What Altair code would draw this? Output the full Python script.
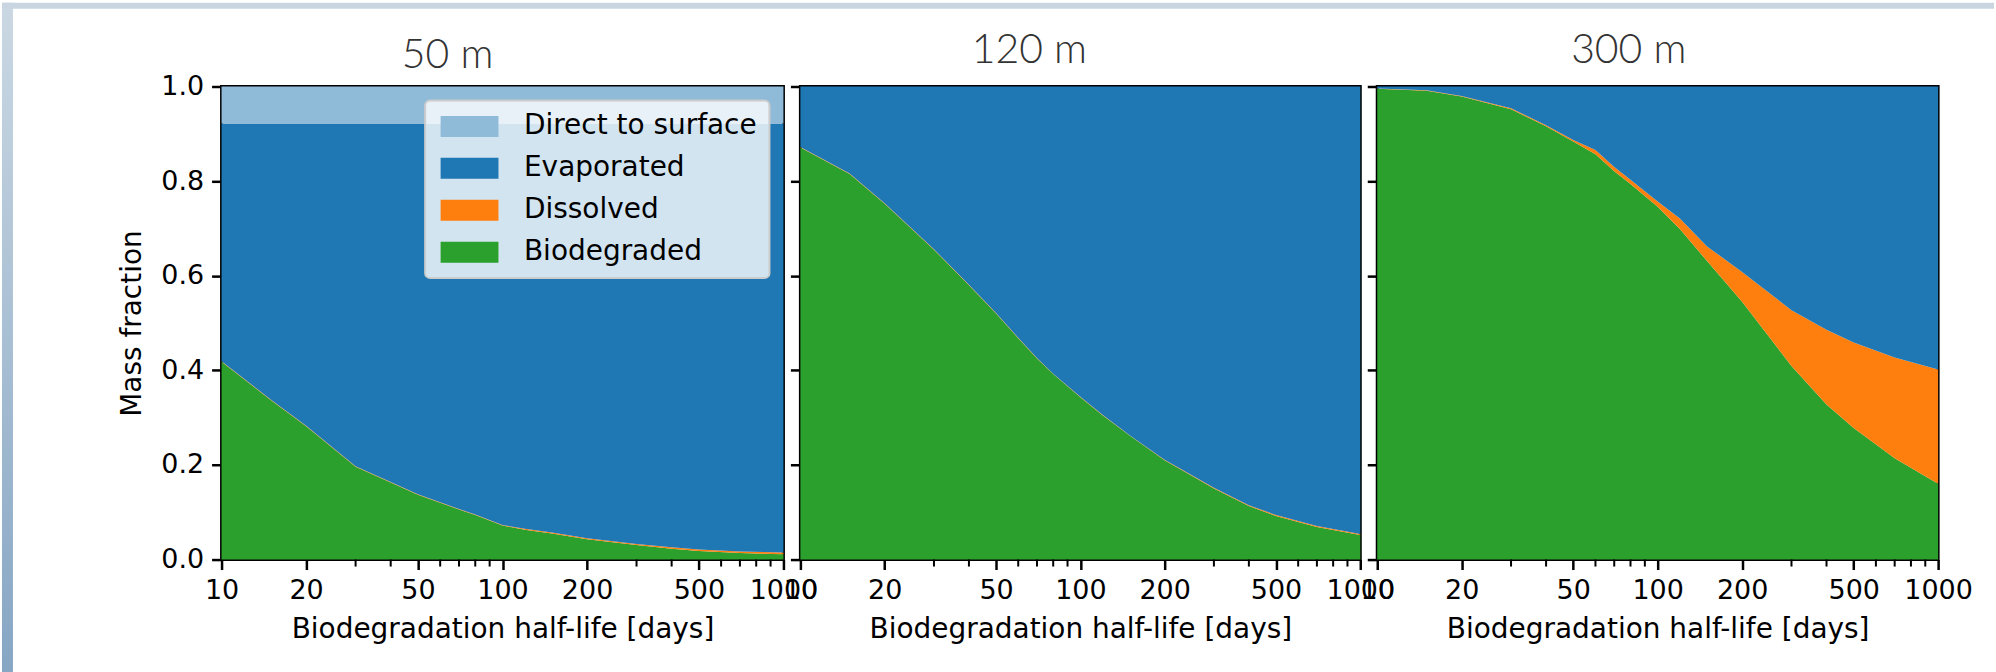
import altair as alt
import pandas as pd

# ---------------- data ----------------
days = [10, 15, 20, 30, 40, 50, 60, 70, 80, 100, 120, 150, 200, 300, 400, 500, 700, 1000]

depth_titles = ["50 m", "120 m", "300 m"]
categories = ["Direct to surface", "Evaporated", "Dissolved", "Biodegraded"]
colors = ["#8fbbd9", "#1f77b4", "#ff7f0e", "#2ca02c"]

# 50 m
bio_50 = [0.418, 0.337, 0.282, 0.196, 0.163, 0.137, 0.120, 0.106, 0.094, 0.072, 0.063, 0.055, 0.043, 0.031, 0.023, 0.018, 0.014, 0.011]
diss_50 = [0.001, 0.001, 0.001, 0.001, 0.001, 0.001, 0.001, 0.001, 0.001, 0.001, 0.002, 0.002, 0.002, 0.002, 0.003, 0.003, 0.003, 0.004]
evap_50 = [0.503, 0.584, 0.639, 0.725, 0.758, 0.784, 0.801, 0.815, 0.827, 0.849, 0.857, 0.865, 0.877, 0.889, 0.896, 0.901, 0.905, 0.907]
direct_50 = [0.078, 0.078, 0.078, 0.078, 0.078, 0.078, 0.078, 0.078, 0.078, 0.078, 0.078, 0.078, 0.078, 0.078, 0.078, 0.078, 0.078, 0.078]

# 120 m
bio_120 = [0.871, 0.815, 0.752, 0.655, 0.580, 0.520, 0.468, 0.425, 0.392, 0.343, 0.305, 0.262, 0.210, 0.150, 0.113, 0.092, 0.069, 0.052]
diss_120 = [0.001, 0.001, 0.001, 0.001, 0.001, 0.001, 0.001, 0.001, 0.001, 0.001, 0.001, 0.001, 0.001, 0.002, 0.002, 0.002, 0.002, 0.002]
evap_120 = [0.128, 0.184, 0.247, 0.344, 0.419, 0.479, 0.531, 0.574, 0.607, 0.656, 0.694, 0.737, 0.789, 0.848, 0.885, 0.906, 0.929, 0.946]

# 300 m
bio_300 = [0.995, 0.991, 0.979, 0.952, 0.916, 0.884, 0.857, 0.821, 0.794, 0.746, 0.699, 0.631, 0.545, 0.409, 0.328, 0.278, 0.214, 0.160]
diss_300 = [0.001, 0.001, 0.001, 0.002, 0.002, 0.003, 0.009, 0.009, 0.009, 0.011, 0.022, 0.031, 0.063, 0.118, 0.158, 0.181, 0.213, 0.242]
evap_300 = [0.004, 0.008, 0.020, 0.046, 0.082, 0.113, 0.134, 0.170, 0.197, 0.243, 0.279, 0.338, 0.392, 0.473, 0.514, 0.541, 0.573, 0.598]

major_ticks = [10, 20, 50, 100, 200, 500, 1000]
minor_ticks = [30, 40, 60, 70, 80, 90, 300, 400, 600, 700, 800, 900]
y_ticks = [0.0, 0.2, 0.4, 0.6, 0.8, 1.0]

# ---------------- layout ----------------
H = 474
widths = [563, 561, 562]
title_dx = [-55, -51, -29]
title_offset = [-106, -19, -19]

FONT = "DejaVu Sans"
xscale = alt.Scale(type="log", domain=[10, 1000], nice=False)
yscale = alt.Scale(domain=[0, 1], nice=False)


def long_table(series):
    rows = []
    for name, order, vals in series:
        for d, v in zip(days, vals):
            rows.append({"days": d, "fraction": v, "component": name, "k": order})
    return pd.DataFrame(rows)


def panel(i, series, show_y, show_legend):
    df = long_table(series)
    xaxis = alt.Axis(values=major_ticks, format="d", labelOverlap=False, labelFlush=False,
                     title="Biodegradation half-life [days]", labelPadding=8, titlePadding=12,
                     tickSize=10)
    if show_y:
        yaxis = alt.Axis(values=y_ticks, format=".1f", title="Mass fraction",
                         labelPadding=8, titlePadding=14, tickSize=10)
    else:
        yaxis = alt.Axis(values=y_ticks, labels=False, title=None, tickSize=10)
    if show_legend:
        legend = alt.Legend(orient="none", legendX=204, legendY=14, title=None,
                            symbolType="M-1,-1H4.52V1H-1Z", symbolSize=441,
                            symbolStrokeWidth=0, symbolOpacity=1,
                            labelFont=FONT, labelFontSize=28, labelColor="black",
                            labelOffset=59, labelLimit=0, rowPadding=14,
                            fillColor="rgba(255,255,255,0.8)", strokeColor="#cccccc",
                            cornerRadius=5, padding=12)
    else:
        legend = None
    areas = alt.Chart(df).mark_area(opacity=1, interpolate="linear").encode(
        x=alt.X("days:Q", scale=xscale, axis=xaxis),
        y=alt.Y("fraction:Q", stack="zero", scale=yscale, axis=yaxis),
        color=alt.Color("component:N", scale=alt.Scale(domain=categories, range=colors),
                        legend=legend),
        order=alt.Order("k:Q", sort="ascending"),
    )
    minor = alt.Chart(pd.DataFrame({"days": minor_ticks})).mark_rule(
        color="black", strokeWidth=2).encode(
        x=alt.X("days:Q", scale=xscale, axis=xaxis),
        y=alt.value(H), y2=alt.value(H + 7),
    )
    layers = [areas, minor]
    if i == 0:
        dummy = pd.DataFrame({"a": [0]})
        grad = alt.LinearGradient(gradient="linear",
                                  stops=[alt.GradientStop(color="#cbd8e3", offset=0),
                                         alt.GradientStop(color="#86a6c4", offset=1)],
                                  x1=0, x2=0, y1=0, y2=1)
        left_strip = alt.Chart(dummy).mark_rect(color=grad).encode(
            x=alt.value(-220), x2=alt.value(-209), y=alt.value(-84), y2=alt.value(672 - 84))
        top_strip = alt.Chart(dummy).mark_rect(color="#c9d6e1").encode(
            x=alt.value(-220), x2=alt.value(1996 - 220), y=alt.value(-84), y2=alt.value(-78))
        layers = [left_strip, top_strip] + layers
    return alt.layer(*layers).properties(
        width=widths[i], height=H,
        title=alt.TitleParams(text=depth_titles[i], frame="group", anchor="middle",
                              dx=title_dx[i], offset=title_offset[i], baseline="alphabetic",
                              font="Lato", fontSize=41, fontWeight=300, color="#333333"),
    )


p1 = panel(0, [("Biodegraded", 0, bio_50), ("Dissolved", 1, diss_50),
               ("Evaporated", 2, evap_50), ("Direct to surface", 3, direct_50)], True, True)
p2 = panel(1, [("Biodegraded", 0, bio_120), ("Dissolved", 1, diss_120),
               ("Evaporated", 2, evap_120)], False, False)
p3 = panel(2, [("Biodegraded", 0, bio_300), ("Dissolved", 1, diss_300),
               ("Evaporated", 2, evap_300)], False, False)

chart = alt.hconcat(p1, p2, p3, spacing=17, bounds="flush").resolve_legend(
    color="independent"
).configure(background="white", padding=0).configure_view(
    stroke="black", strokeWidth=3
).configure_axis(
    labelFont=FONT, labelFontSize=27, labelColor="black",
    titleFont=FONT, titleFontSize=28, titleColor="black", titleFontWeight="normal",
    tickColor="black", tickWidth=2.5, domain=False, grid=False,
).configure_legend(strokeWidth=2)

chart.save("out.html", embed_options={"renderer": "svg", "actions": False})
